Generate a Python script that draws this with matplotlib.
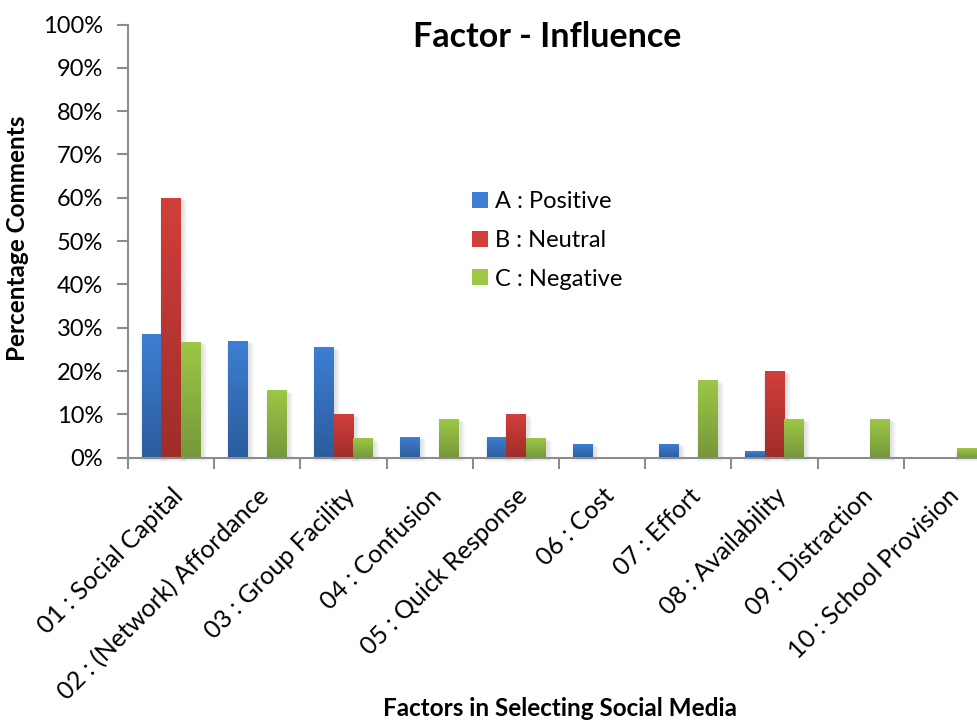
import numpy as np
import matplotlib
matplotlib.use("Agg")
import matplotlib.pyplot as plt
from matplotlib.patches import Rectangle, Patch
from matplotlib.colors import LinearSegmentedColormap

plt.rcParams['font.family'] = ['Lato', 'DejaVu Sans']

categories = ["01 : Social Capital", "02 : (Network) Affordance", "03 : Group Facility",
              "04 : Confusion", "05 : Quick Response", "06 : Cost", "07 : Effort",
              "08 : Availability", "09 : Distraction", "10 : School Provision"]
positive = [28.6, 27.0, 25.4, 4.8, 4.8, 3.2, 3.2, 1.6, 0.0, 0.0]
neutral = [60.0, 0.0, 10.0, 0.0, 10.0, 0.0, 0.0, 20.0, 0.0, 0.0]
negative = [26.7, 15.6, 4.4, 8.9, 4.4, 0.0, 17.8, 8.9, 8.9, 2.2]
series_names = ["A : Positive", "B : Neutral", "C : Negative"]
yticks = [0, 10, 20, 30, 40, 50, 60, 70, 80, 90, 100]

# (top colour, bottom colour) of each series' vertical gradient
shades = [("#3d7fd2", "#2b5c9c"), ("#d23f3b", "#9e2d2a"), ("#9dc746", "#76973a")]

W, H = 977, 722
fig = plt.figure(figsize=(W / 100, H / 100), dpi=100)
ax = fig.add_axes([128 / W, (H - 457.7) / H, 862 / W, 433.2 / H])

n = len(categories)
x = np.arange(n)
bw = 0.226
px_x = 1 / 86.2          # data units per pixel (x)
px_y = 100 / 433.2       # data units per pixel (y)

grad = np.linspace(0, 1, 256).reshape(-1, 1)
for k, (vals, (top, bot)) in enumerate(zip([positive, neutral, negative], shades)):
    cmap = LinearSegmentedColormap.from_list(f"s{k}", [bot, top])
    bars = ax.bar(x + (k - 1) * bw, vals, bw, color="none", edgecolor="none", zorder=3)
    for r in bars:
        h = r.get_height()
        if h <= 0:
            continue
        bx, bwid = r.get_x(), r.get_width()
        # soft drop shadow
        for s in range(1, 6):
            ax.add_patch(Rectangle((bx + 1.5 * px_x - s * px_x * 0.6, -s * px_y * 0.8),
                                   bwid + s * px_x * 1.6, h + s * px_y * 0.2,
                                   facecolor="#000000", alpha=0.025, edgecolor="none",
                                   zorder=2, clip_on=False))
        ax.imshow(grad, extent=[bx, bx + bwid, 0, h], origin="lower", aspect="auto",
                  cmap=cmap, zorder=3, interpolation="bilinear")

ax.set_xlim(-0.5, n - 0.5)
ax.set_ylim(0, 100)

for sp in ["top", "right"]:
    ax.spines[sp].set_visible(False)
for sp in ["left", "bottom"]:
    ax.spines[sp].set_color("#8c8c8c")
    ax.spines[sp].set_linewidth(1.5)
    ax.spines[sp].set_zorder(4)

ax.set_yticks(yticks)
ax.set_yticklabels([f"{v}%" for v in yticks], fontsize=17)
ax.tick_params(axis="y", length=8, width=1.5, color="#8c8c8c", pad=10)

ax.set_xticks(x)
ax.set_xticklabels(categories, rotation=45, ha="right", rotation_mode="anchor", fontsize=18)
ax.tick_params(axis="x", which="major", length=0, pad=19)
ax.set_xticks(np.arange(n + 1) - 0.5, minor=True)
ax.tick_params(axis="x", which="minor", length=8, width=1.5, color="#8c8c8c")

handles = [Patch(facecolor=top, edgecolor="none") for top, _ in shades]
ax.legend(handles, series_names, loc="upper left", bbox_to_anchor=(451 / W, 1 - 170 / H),
          bbox_transform=fig.transFigure, frameon=False, fontsize=17,
          handlelength=0.65, handleheight=0.65, handletextpad=0.3, labelspacing=0.75)

fig.text(547 / W, 1 - 37 / H, "Factor - Influence", ha="center", va="center",
         fontsize=24.5, fontweight="bold")
fig.text(18 / W, 1 - 238 / H, "Percentage Comments", ha="center", va="center",
         rotation=90, fontsize=17.5, fontweight="bold")
fig.text(560 / W, 1 - 709 / H, "Factors in Selecting Social Media", ha="center",
         va="center", fontsize=17.5, fontweight="bold")

fig.savefig("out.png", dpi=100, facecolor="white")
